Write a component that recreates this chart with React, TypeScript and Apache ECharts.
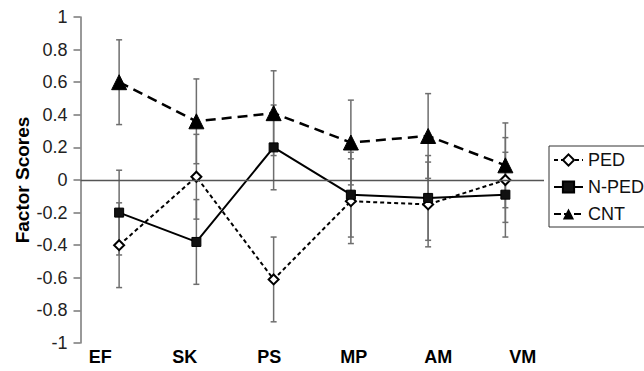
import React, { useEffect, useRef } from "react";
import * as echarts from "echarts";

const categories = ["EF", "SK", "PS", "MP", "AM", "VM"];
const pedValues = [-0.4, 0.02, -0.61, -0.13, -0.15, 0.0];
const npedValues = [-0.2, -0.38, 0.2, -0.09, -0.11, -0.09];
const cntValues = [0.6, 0.36, 0.41, 0.23, 0.27, 0.09];
const pedErr = [0.26, 0.26, 0.26, 0.26, 0.26, 0.26];
const npedErr = [0.26, 0.26, 0.26, 0.26, 0.26, 0.26];
const cntErr = [0.26, 0.26, 0.26, 0.26, 0.26, 0.26];
const yTicks = [-1, -0.8, -0.6, -0.4, -0.2, 0, 0.2, 0.4, 0.6, 0.8, 1];

function errData(vals: number[], errs: number[]) {
  return vals.map((v, i) => [i, v - errs[i], v + errs[i]]);
}

function errSeries(name: string, vals: number[], errs: number[]) {
  return {
    type: "custom",
    name: name + "-err",
    data: errData(vals, errs),
    z: 1,
    silent: true,
    encode: { x: 0, y: [1, 2] },
    renderItem: (params: any, api: any) => {
      const x = api.value(0);
      const lo = api.coord([x, api.value(1)]);
      const hi = api.coord([x, api.value(2)]);
      const cw = 3;
      const style = { stroke: "#6e6e6e", lineWidth: 1.5 };
      return {
        type: "group",
        children: [
          { type: "line", shape: { x1: lo[0], y1: lo[1], x2: hi[0], y2: hi[1] }, style },
          { type: "line", shape: { x1: lo[0] - cw, y1: lo[1], x2: lo[0] + cw, y2: lo[1] }, style },
          { type: "line", shape: { x1: hi[0] - cw, y1: hi[1], x2: hi[0] + cw, y2: hi[1] }, style },
        ],
      };
    },
  };
}

export default function App() {
  const ref = useRef<HTMLDivElement>(null);
  useEffect(() => {
    if (!ref.current) return;
    const chart = echarts.init(ref.current, null, { renderer: "svg" });
    chart.setOption({
      animation: false,
      backgroundColor: "#fff",
      textStyle: { fontFamily: "Liberation Sans, Arial, sans-serif" },
      grid: [
        { left: 80.5, right: 100, top: 17, bottom: 28 },
        { left: 58, right: 79, top: 17, bottom: 28 },
      ],
      legend: {
        orient: "vertical",
        left: 549,
        top: 146,
        data: [
          { name: "PED", lineStyle: { type: [4, 3], width: 2 } },
          { name: "N-PED" },
          { name: "CNT", lineStyle: { type: [7, 3], width: 2 } },
        ],
        borderColor: "#333",
        borderWidth: 1,
        padding: [5, 10, 4, 4],
        itemWidth: 29,
        itemHeight: 14,
        itemGap: 9,
        textStyle: { fontSize: 18, color: "#111" },
        selectedMode: false,
      },
      xAxis: [
        {
          type: "category",
          gridIndex: 0,
          data: categories,
          axisLine: { show: false, onZero: false },
          axisTick: { show: false },
          axisLabel: { show: false },
        },
        {
          type: "category",
          gridIndex: 1,
          data: categories,
          axisLine: { show: false, onZero: false },
          axisTick: { show: false },
          axisLabel: { fontSize: 18, fontWeight: "bold", color: "#000", margin: 5 },
        },
      ],
      yAxis: [
        {
          type: "value",
          gridIndex: 0,
          min: -1,
          max: 1,
          interval: 0.2,
          name: "Factor Scores",
          nameLocation: "middle",
          nameGap: 49,
          nameMoveOverlap: false,
          nameTextStyle: { fontSize: 19, fontWeight: "bold", color: "#000" },
          splitLine: { show: false },
          axisLine: { show: true, lineStyle: { color: "#777", width: 1.5 } },
          axisTick: { show: true, inside: false, length: 7, lineStyle: { color: "#777", width: 1.5 } },
          axisLabel: {
            fontSize: 18,
            color: "#222",
            margin: 13,
            formatter: (v: number) => {
              const r = Math.round(v * 10) / 10;
              return yTicks.includes(r) ? String(r) : "";
            },
          },
        },
        {
          type: "value",
          gridIndex: 1,
          min: -1,
          max: 1,
          show: false,
        },
      ],
      series: [
        errSeries("PED", pedValues, pedErr),
        errSeries("N-PED", npedValues, npedErr),
        errSeries("CNT", cntValues, cntErr),
        {
          type: "line",
          name: "PED",
          data: pedValues,
          z: 3,
          symbol: "diamond",
          symbolSize: 10,
          lineStyle: { color: "#000", width: 2, type: [4, 3] },
          itemStyle: { color: "#fff", borderColor: "#000", borderWidth: 2 },
          markLine: {
            silent: true,
            symbol: "none",
            label: { show: false },
            lineStyle: { color: "#555", width: 1.3, type: "solid" },
            data: [{ yAxis: 0 }],
          },
        },
        {
          type: "line",
          name: "N-PED",
          data: npedValues,
          z: 3,
          symbol: "rect",
          symbolSize: 9,
          lineStyle: { color: "#000", width: 2, type: "solid" },
          itemStyle: { color: "#111", borderColor: "#000", borderWidth: 1 },
        },
        {
          type: "line",
          name: "CNT",
          data: cntValues,
          z: 3,
          symbol: "triangle",
          symbolSize: 15,
          lineStyle: { color: "#000", width: 2.5, type: [10, 6] },
          itemStyle: { color: "#000", borderColor: "#000" },
        },
      ],
    });
    return () => chart.dispose();
  }, []);
  return <div ref={ref} style={{ width: 644, height: 371, position: "absolute", left: 0, top: 0 }} />;
}
